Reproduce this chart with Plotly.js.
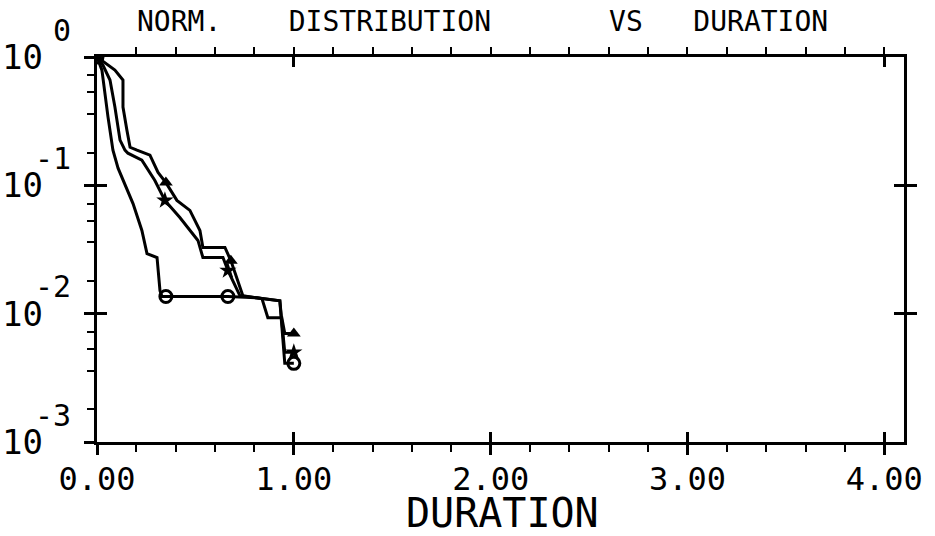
<!DOCTYPE html>
<html>
<head>
<meta charset="utf-8">
<script src="https://cdn.plot.ly/plotly-3.0.1.min.js"></script>
<style>html,body{margin:0;padding:0;background:#fff;}#chart{width:935px;height:536px;}</style>
</head>
<body>
<div id="chart"></div>
<script>
// ---- data ----
const durA = [0, 0.025, 0.056, 0.081, 0.107, 0.183, 0.228, 0.254, 0.305, 0.320, 0.330, 0.665, 0.812, 0.929, 0.954, 1.0];
const normA = [1.0, 0.79, 0.34, 0.188, 0.136, 0.072, 0.0445, 0.0294, 0.0274, 0.0151, 0.0136, 0.0136, 0.0133, 0.0126, 0.0041, 0.0041];

const durB = [0, 0.041, 0.091, 0.132, 0.132, 0.152, 0.168, 0.203, 0.269, 0.310, 0.350, 0.406, 0.472, 0.523, 0.538, 0.650, 0.680, 0.741, 0.812, 0.838, 0.868, 0.939, 0.954, 1.0];
const normB = [1.0, 0.898, 0.791, 0.661, 0.407, 0.269, 0.198, 0.188, 0.172, 0.126, 0.105, 0.0763, 0.0638, 0.0445, 0.0328, 0.0328, 0.0259, 0.0138, 0.0133, 0.0131, 0.0093, 0.0093, 0.0070, 0.0070];

const durC = [0, 0.030, 0.066, 0.091, 0.117, 0.142, 0.157, 0.228, 0.294, 0.345, 0.421, 0.513, 0.538, 0.640, 0.665, 0.726, 0.929, 0.954, 1.0];
const normC = [1.0, 0.866, 0.661, 0.407, 0.225, 0.188, 0.178, 0.157, 0.109, 0.0763, 0.0562, 0.0372, 0.0274, 0.0274, 0.0217, 0.0138, 0.0126, 0.0050, 0.0050];

const markDurA = [0, 0.35, 0.665, 1.0];
const markNormA = [1.0, 0.0136, 0.0136, 0.0041];
const markDurB = [0, 0.35, 0.68, 1.0];
const markNormB = [1.0, 0.105, 0.0259, 0.0070];
const markDurC = [0, 0.345, 0.665, 1.0];
const markNormC = [1.0, 0.0763, 0.0217, 0.0050];

const xMajor = [0, 1, 2, 3, 4];
const xLabels = ['0.00', '1.00', '2.00', '3.00', '4.00'];
const yMajor = [1, 0.1, 0.01, 0.001];
const yExpLabels = ['0', '-1', '-2', '-3'];
const xTitle = 'DURATION';
const titleText = 'NORM.\u00a0\u00a0\u00a0\u00a0DISTRIBUTION\u00a0\u00a0\u00a0\u00a0\u00a0\u00a0\u00a0VS\u00a0\u00a0\u00a0DURATION';

// ---- axis decoration helpers ----
const xMinor = [];
for (let i = 1; i <= 20; i++) { const v = +(i * 0.2).toFixed(1); if (Math.abs(v - Math.round(v)) > 1e-6) xMinor.push(v); }
const xMinorTop = [];
for (let i = 1; i <= 20; i++) xMinorTop.push(+(i * 0.2).toFixed(1));
const yMinorMult = [0.72, 0.53, 0.36, 0.18];
const yMinor = [];
[1, 0.1, 0.01].forEach(d => yMinorMult.forEach(m => yMinor.push(d * m)));

const FONT = 'DejaVu Sans Mono, monospace';
const XR = [0, 4.1];
const YR = [-3, 0];

const lineStyle = {color: 'black', width: 3};
const traces = [
  {x: durA, y: normA, mode: 'lines', line: lineStyle, showlegend: false, hoverinfo: 'skip'},
  {x: durB, y: normB, mode: 'lines', line: lineStyle, showlegend: false, hoverinfo: 'skip'},
  {x: durC, y: normC, mode: 'lines', line: lineStyle, showlegend: false, hoverinfo: 'skip'},
  {x: markDurA, y: markNormA, mode: 'markers', marker: {symbol: 'circle-open', size: 12, color: 'black', line: {width: 3, color: 'black'}}, showlegend: false},
  {x: markDurB, y: markNormB, mode: 'markers', marker: {symbol: 'triangle-up', size: 12, color: 'black'}, showlegend: false},
  {x: markDurC, y: markNormC, mode: 'markers', marker: {symbol: 'star', size: 13, color: 'black'}, showlegend: false},
  // empty traces so that the decoration axes are drawn
  {x: [], y: [], xaxis: 'x2', yaxis: 'y', showlegend: false, hoverinfo: 'skip'},
  {x: [], y: [], xaxis: 'x3', yaxis: 'y', showlegend: false, hoverinfo: 'skip'},
  {x: [], y: [], xaxis: 'x4', yaxis: 'y', showlegend: false, hoverinfo: 'skip'},
  {x: [], y: [], xaxis: 'x', yaxis: 'y2', showlegend: false, hoverinfo: 'skip'},
  {x: [], y: [], xaxis: 'x', yaxis: 'y3', showlegend: false, hoverinfo: 'skip'},
  {x: [], y: [], xaxis: 'x', yaxis: 'y4', showlegend: false, hoverinfo: 'skip'}
];

const base = {showgrid: false, zeroline: false, linecolor: 'black', tickcolor: 'black'};

const annotations = [];
yMajor.forEach((v, i) => {
  annotations.push({xref: 'paper', yref: 'y', x: -0.0644, y: Math.log10(v), text: '10', showarrow: false,
    xanchor: 'right', yanchor: 'middle', font: {family: FONT, size: 34, color: 'black'}});
  annotations.push({xref: 'paper', yref: 'y', x: -0.0297, y: Math.log10(v), yshift: 27, text: yExpLabels[i], showarrow: false,
    xanchor: 'right', yanchor: 'middle', font: {family: FONT, size: 30, color: 'black'}});
});
// x-axis title, placed below the tick labels
annotations.push({xref: 'paper', yref: 'paper', x: 0.503, y: -0.2468, text: xTitle, showarrow: false,
  xanchor: 'center', yanchor: 'bottom', borderpad: 0, font: {family: FONT, size: 40, color: 'black'}});

const layout = {
  width: 935, height: 536,
  margin: {l: 97, r: 31, t: 57, b: 94},
  paper_bgcolor: 'white', plot_bgcolor: 'white',
  font: {family: FONT, color: 'black'},
  title: {text: titleText, font: {family: FONT, size: 28, color: 'black'},
    xref: 'paper', x: 0.0496, xanchor: 'left', yref: 'container', y: 0.96, yanchor: 'middle'},
  xaxis: Object.assign({}, base, {range: XR, showline: true, linewidth: 3,
    ticks: 'outside', tickmode: 'array', tickvals: xMajor, ticktext: xLabels, ticklen: 10, tickwidth: 3,
    ticklabelstandoff: -3,
    tickfont: {family: FONT, size: 32, color: 'black'},
    minor: {tickmode: 'array', tickvals: xMinor, ticks: 'outside', ticklen: 7, tickwidth: 2, tickcolor: 'black'}}),
  xaxis2: Object.assign({}, base, {range: XR, overlaying: 'x', anchor: 'y', side: 'bottom', showline: false,
    ticks: 'inside', tickmode: 'array', tickvals: xMajor, ticklen: 10, tickwidth: 3, showticklabels: false}),
  xaxis3: Object.assign({}, base, {range: XR, overlaying: 'x', anchor: 'y', side: 'top', showline: true, linewidth: 3,
    ticks: 'outside', tickmode: 'array', tickvals: xMinorTop, ticklen: 7, tickwidth: 2, showticklabels: false}),
  xaxis4: Object.assign({}, base, {range: XR, overlaying: 'x', anchor: 'y', side: 'top', showline: false,
    ticks: 'inside', tickmode: 'array', tickvals: [1, 4], ticklen: 10, tickwidth: 3, showticklabels: false}),
  yaxis: Object.assign({}, base, {type: 'log', range: YR, showline: true, linewidth: 3,
    ticks: 'outside', tickmode: 'array', tickvals: yMajor, ticklen: 10, tickwidth: 3, showticklabels: false,
    minor: {tickmode: 'array', tickvals: yMinor, ticks: 'outside', ticklen: 7, tickwidth: 2, tickcolor: 'black'}}),
  yaxis2: Object.assign({}, base, {type: 'log', range: YR, overlaying: 'y', anchor: 'x', side: 'left', showline: false,
    ticks: 'inside', tickmode: 'array', tickvals: yMajor, ticklen: 10, tickwidth: 3, showticklabels: false}),
  yaxis3: Object.assign({}, base, {type: 'log', range: YR, overlaying: 'y', anchor: 'x', side: 'right', showline: true, linewidth: 3,
    ticks: 'outside', tickmode: 'array', tickvals: [0.1, 0.01], ticklen: 10, tickwidth: 3, showticklabels: false}),
  yaxis4: Object.assign({}, base, {type: 'log', range: YR, overlaying: 'y', anchor: 'x', side: 'right', showline: false,
    ticks: 'inside', tickmode: 'array', tickvals: [0.1, 0.01], ticklen: 10, tickwidth: 3, showticklabels: false}),
  annotations: annotations,
  showlegend: false
};

Plotly.newPlot('chart', traces, layout, {staticPlot: true, displayModeBar: false});
</script>
</body>
</html>
